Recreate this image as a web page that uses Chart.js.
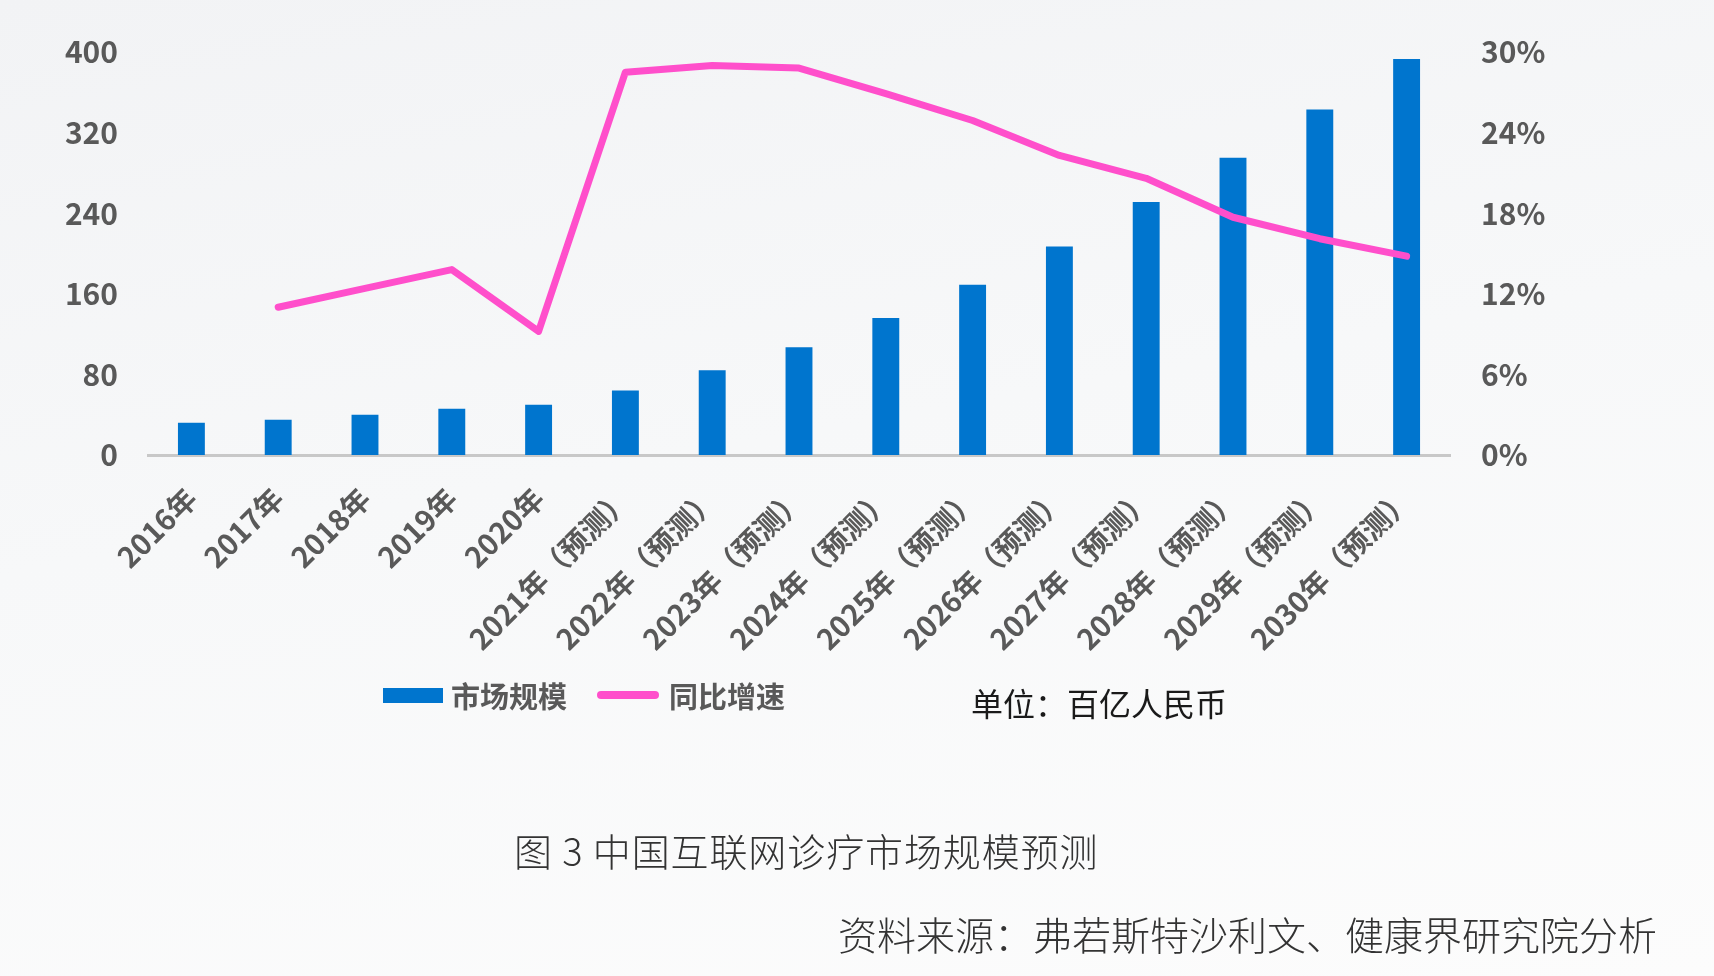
<!DOCTYPE html>
<html>
<head>
    <meta charset="UTF-8">
    <title>中国互联网诊疗市场规模预测</title>
    <script src="https://cdn.jsdelivr.net/npm/chart.js"></script>
    <style>
        body {
            margin: 0;
            width: 1714px;
            height: 976px;
            overflow: hidden;
            background: linear-gradient(170deg, #f2f3f5 0%, #f7f8f9 45%, #fcfcfc 100%);
            font-family: "Noto Sans CJK SC", "Noto Sans", sans-serif;
            position: relative;
        }

        #chartBox {
            position: absolute;
            left: 0;
            top: 0;
            width: 1714px;
            height: 976px;
        }

        .txt {
            position: absolute;
            white-space: nowrap;
            line-height: 1;
        }

        .legend-label {
            color: #595959;
            font-size: 29px;
            font-weight: bold;
        }

        .swatch-bar {
            position: absolute;
            left: 383px;
            top: 688px;
            width: 60px;
            height: 15px;
            background-color: #0075ce;
        }

        .swatch-line {
            position: absolute;
            left: 597px;
            top: 691px;
            width: 62px;
            height: 8px;
            border-radius: 4px;
            background-color: #ff4fcb;
        }
    </style>
</head>
<body>
    <div id="chartBox">
        <canvas id="marketChart" width="1714" height="976"></canvas>
    </div>

    <div class="swatch-bar"></div>
    <div class="txt legend-label" style="left: 451px; top: 681px;">市场规模</div>
    <div class="swatch-line"></div>
    <div class="txt legend-label" style="left: 669px; top: 681px;">同比增速</div>

    <div class="txt" style="left: 971px; top: 686px; font-size: 32px; color: #1a1a1a;">单位：百亿人民币</div>
    <div class="txt" style="left: 514px; top: 831px; font-size: 38px; font-weight: 300; color: #333; letter-spacing: 0.9px;">图 3 中国互联网诊疗市场规模预测</div>
    <div class="txt" style="left: 838px; top: 914px; font-size: 39px; font-weight: 300; color: #333;">资料来源：弗若斯特沙利文、健康界研究院分析</div>

    <script>
        // 数据
        var categories = ['2016年', '2017年', '2018年', '2019年', '2020年',
            '2021年（预测）', '2022年（预测）', '2023年（预测）', '2024年（预测）', '2025年（预测）',
            '2026年（预测）', '2027年（预测）', '2028年（预测）', '2029年（预测）', '2030年（预测）'];
        var marketSize = [32, 35, 40, 46, 50, 64, 84, 107, 136, 169, 207, 251, 295, 343, 393]; // 百亿人民币
        var growthRate = [null, 11.0, 12.4, 13.8, 9.2, 28.5, 29.0, 28.8, 26.9, 24.9, 22.3, 20.6, 17.7, 16.1, 14.8]; // %

        var tickColor = '#595959';

        var ctx = document.getElementById('marketChart').getContext('2d');
        var chart = new Chart(ctx, {
            type: 'bar',
            data: {
                labels: categories,
                datasets: [{
                    type: 'line',
                    label: '同比增速',
                    data: growthRate,
                    yAxisID: 'yRight',
                    borderColor: '#ff4fcb',
                    backgroundColor: '#ff4fcb',
                    borderWidth: 7,
                    pointRadius: 0,
                    tension: 0,
                    borderCapStyle: 'round',
                    borderJoinStyle: 'round',
                    order: 0
                }, {
                    type: 'bar',
                    label: '市场规模',
                    data: marketSize,
                    yAxisID: 'yLeft',
                    backgroundColor: '#0075ce',
                    barPercentage: 0.31,
                    categoryPercentage: 1,
                    order: 1
                }]
            },
            options: {
                responsive: false,
                animation: false,
                layout: {
                    padding: { top: 52, bottom: 0, left: 0, right: 0 }
                },
                plugins: {
                    legend: { display: false },
                    tooltip: { enabled: false }
                },
                scales: {
                    x: {
                        grid: { display: false, drawTicks: false },
                        border: { display: true, color: '#c8c8c8', width: 3 },
                        ticks: {
                            color: tickColor,
                            font: { family: 'Noto Sans CJK SC', size: 29, weight: 'bold' },
                            minRotation: 45,
                            maxRotation: 45,
                            autoSkip: false,
                            padding: 26
                        },
                        afterFit: function(scale) { scale.height = 521; }
                    },
                    yLeft: {
                        position: 'left',
                        min: 0,
                        max: 400,
                        grid: { display: false, drawTicks: false },
                        border: { display: false },
                        ticks: {
                            stepSize: 80,
                            color: tickColor,
                            font: { family: 'Noto Sans CJK SC', size: 30, weight: 'bold' },
                            padding: 30
                        },
                        afterFit: function(scale) { scale.width = 148; }
                    },
                    yRight: {
                        position: 'right',
                        min: 0,
                        max: 30,
                        grid: { display: false, drawTicks: false },
                        border: { display: false },
                        ticks: {
                            stepSize: 6,
                            color: tickColor,
                            font: { family: 'Noto Sans CJK SC', size: 30, weight: 'bold' },
                            padding: 31,
                            callback: function(v) { return v + '%'; }
                        },
                        afterFit: function(scale) { scale.width = 264; }
                    }
                }
            }
        });
    </script>
</body>
</html>
